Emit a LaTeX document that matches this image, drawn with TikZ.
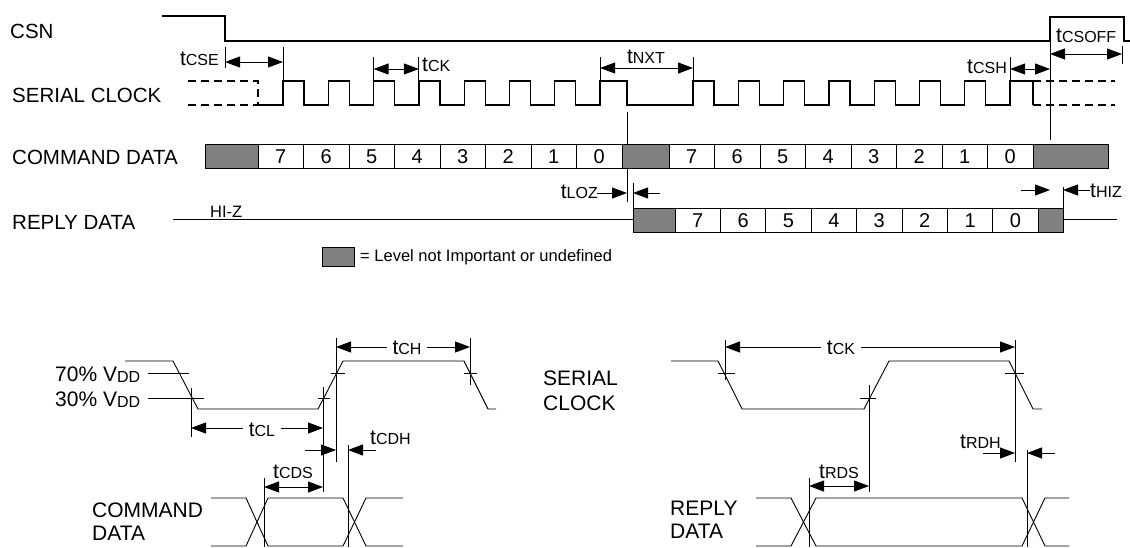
\documentclass[tikz,border=0pt]{standalone}
\usepackage{fontspec}
\setmainfont{Liberation Sans}
\usetikzlibrary{arrows.meta}
\definecolor{undefgray}{gray}{0.5}
\newcommand\tsub[1]{{\fontsize{21}{21}\selectfont t}{\fontsize{16}{16}\selectfont #1}}
\newcommand\vdd{V{\fontsize{16}{16}\selectfont\raisebox{-1.5pt}{DD}}}
\begin{document}
\begin{tikzpicture}[x=1pt,y=-1pt,
  wave/.style={line width=1.3pt},
  dashwave/.style={line width=1.3pt,dash pattern=on 8pt off 5pt},
  dimln/.style={line width=0.9pt},
  twoarr/.style={dimln,{Triangle[length=15pt,width=11pt]}-{Triangle[length=15pt,width=11pt]}},
  onearr/.style={dimln,-{Triangle[length=15pt,width=11pt]}},
  lbl/.style={font=\fontsize{20.5}{24}\selectfont,inner sep=0pt,anchor=base west},
  blbl/.style={font=\fontsize{21}{24}\selectfont,inner sep=0pt,anchor=base west},
  small/.style={font=\fontsize{16.5}{18}\selectfont,inner sep=0pt},
  tl/.style={inner sep=0pt},
  gap/.style={inner xsep=6pt,inner ysep=1pt,fill=white,anchor=base},
  cell/.style={draw,line width=1pt},
  undefbox/.style={draw,line width=1pt,fill=undefgray},
  digit/.style={font=\fontsize{20}{20}\selectfont,inner sep=0pt,anchor=base},
]
\useasboundingbox (0,0) rectangle (1130,547);

% ---------- row labels ----------
\node[lbl] (csn) at (10,38) {CSN};
\node[lbl] (sclk) at (12,102) {SERIAL CLOCK};
\node[lbl] (cmd) at (12,164) {COMMAND DATA};
\node[lbl] (rep) at (12,229) {REPLY DATA};

% ---------- CSN ----------
\draw[wave] (162,16) -- (225,16) -- (225,41) -- (1050,41) -- (1050,17) -- (1124,17) -- (1124,41) -- (1130,41);

% ---------- serial clock ----------
\draw[dashwave] (188,81) -- (258,81) -- (258,105) -- (188,105);
\draw[wave] (258,105)
  foreach \k in {0,...,6} { -- ({283+45.3*\k},105) -- ({283+45.3*\k},81) -- ({304+45.3*\k},81) -- ({304+45.3*\k},105) }
  -- (600.1,105) -- (600.1,81) -- (627,81) -- (627,105) -- (693,105)
  foreach \k in {0,...,6} { -- ({693+45.3*\k},105) -- ({693+45.3*\k},81) -- ({714+45.3*\k},81) -- ({714+45.3*\k},105) }
  -- (1010.1,105) -- (1010.1,81) -- (1033,81) -- (1033,105);
\draw[dashwave] (1033,81) -- (1115,81);
\draw[dashwave] (1033,105) -- (1115,105);

% tCSE
\node[tl,anchor=base east] (tcse) at (219,65) {\tsub{CSE}};
\draw[dimln] (225,47) -- (225,68);
\draw[dimln] (283,47) -- (283,81);
\draw[twoarr] (225,62) -- (283,62);
% tCK (top)
\draw[dimln] (373.6,57) -- (373.6,81);
\draw[dimln] (418.9,57) -- (418.9,81);
\draw[twoarr] (373.6,69) -- (418.9,69);
\node[tl,anchor=base west] (tck1) at (422,71) {\tsub{CK}};
% tNXT
\draw[dimln] (600.1,57) -- (600.1,81);
\draw[dimln] (693,57) -- (693,81);
\draw[twoarr] (600.1,68) -- (693,68);
\node[tl,anchor=base] (tnxt) at (646,63) {\tsub{NXT}};
% tCSH
\draw[dimln] (1010.1,57) -- (1010.1,81);
\draw[twoarr] (1010.1,69) -- (1050,69);
\node[tl,anchor=base east] (tcsh) at (1007,73) {\tsub{CSH}};
% tCSOFF
\draw[dimln] (1050,41) -- (1050,140);
\draw[dimln] (1122,46) -- (1122,64);
\draw[twoarr] (1050,54) -- (1122,54);
\node[tl,anchor=base west] (tcsoff) at (1056,42) {\tsub{CSOFF}};

% long marker at end of first byte
\draw[dimln] (627,112) -- (627,202);

% ---------- command data ----------
\draw[undefbox] (205,144) rectangle (258,168);
\foreach \d [count=\i from 0] in {7,6,5,4,3,2,1,0} {
  \draw[cell] ({258+45.5*\i},144) rectangle ++(45.5,24);
  \node[digit] at ({280.75+45.5*\i},163) {\d};
}
\draw[undefbox] (622,144) rectangle (669,168);
\foreach \d [count=\i from 0] in {7,6,5,4,3,2,1,0} {
  \draw[cell] ({669+45.5*\i},144) rectangle ++(45.5,24);
  \node[digit] at ({691.75+45.5*\i},163) {\d};
}
\draw[undefbox] (1033,144) rectangle (1108,168);

% ---------- reply data ----------
\draw[dimln] (173,219) -- (633,219);
\node[small,anchor=base west] (hiz) at (210,217) {HI-Z};
\draw[undefbox] (633,208) rectangle (675,232);
\foreach \d [count=\i from 0] in {7,6,5,4,3,2,1,0} {
  \draw[cell] ({675+45.4*\i},208) rectangle ++(45.4,24);
  \node[digit] at ({697.7+45.4*\i},227) {\d};
}
\draw[undefbox] (1038,208) rectangle (1063,232);
\draw[dimln] (1063,219) -- (1117,219);

% tLOZ
\node[tl,anchor=base east] (tloz) at (598,198) {\tsub{LOZ}};
\draw[onearr] (597,193) -- (627,193);
\draw[dimln] (633,183) -- (633,208);
\draw[onearr] (660,193) -- (633,193);
% tHIZ
\draw[onearr] (1021,190) -- (1050,190);
\draw[dimln] (1063,187) -- (1063,208);
\draw[onearr] (1090,190) -- (1063,190);
\node[tl,anchor=base west] (thiz) at (1090,197) {\tsub{HIZ}};

% legend
\draw[undefbox] (322,247) rectangle (354,266);
\node[small,anchor=base west] (legend) at (360,261) {= Level not Important or undefined};

% ---------- bottom left: command data timing ----------
\node[blbl] (p70) at (55,381) {70\% \vdd};
\node[blbl] (p30) at (55,406) {30\% \vdd};
\draw[dimln] (148,373) -- (189,373);
\draw[dimln] (148,398) -- (204,398);
\draw[dimln] (125,361) -- (173,361) -- (198,409) -- (318,409) -- (343,361) -- (464,361) -- (488,409) -- (496,409);
\draw[dimln] (318,398) -- (330,398);
\draw[dimln] (331,373) -- (345,373);
\draw[dimln] (464,373) -- (477,373);
\draw[dimln] (191,388) -- (191,437);
\draw[dimln] (323,387) -- (323,492);
\draw[dimln] (336,338) -- (336,462);
\draw[dimln] (470,338) -- (470,385);
\draw[twoarr] (336,347) -- (470,347);
\node[tl,gap] (tch) at (407,354) {\tsub{CH}};
\draw[twoarr] (191,428) -- (323,428);
\node[tl,gap] (tcl) at (262,436) {\tsub{CL}};
\draw[onearr] (305,450) -- (336,450);
\draw[dimln] (348,445) -- (348,547);
\draw[onearr] (376,450) -- (348,450);
\node[tl,anchor=base west] (tcdh) at (370,444) {\tsub{CDH}};
\draw[dimln] (264,478) -- (264,547);
\draw[twoarr] (264,487) -- (323,487);
\node[tl,anchor=base] (tcds) at (293,478) {\tsub{CDS}};
\draw[dimln] (211,498) -- (246,498) -- (268,546) -- (343,546) -- (366,498) -- (403,498);
\draw[dimln] (211,546) -- (246,546) -- (268,498) -- (343,498) -- (366,546) -- (403,546);
\node[blbl] (cmd2a) at (92,517) {COMMAND};
\node[blbl] (cmd2b) at (92,540) {DATA};

% ---------- bottom right: reply data timing ----------
\node[blbl] (sc2a) at (543,385) {SERIAL};
\node[blbl] (sc2b) at (543,410) {CLOCK};
\draw[dimln] (671,361) -- (718,361) -- (742,409) -- (864,409) -- (889,361) -- (1009,361) -- (1033,409) -- (1042,409);
\draw[dimln] (718,373) -- (735,373);
\draw[dimln] (860,398) -- (876,398);
\draw[dimln] (1005,373) -- (1024,373);
\draw[dimln] (725,340) -- (725,380);
\draw[dimln] (869,385) -- (869,492);
\draw[dimln] (1015,340) -- (1015,462);
\draw[twoarr] (725,347) -- (1015,347);
\node[tl,gap] (tck2) at (841,354) {\tsub{CK}};
\draw[onearr] (983,453) -- (1015,453);
\draw[dimln] (1027,450) -- (1027,547);
\draw[onearr] (1055,453) -- (1027,453);
\node[tl,anchor=base west] (trdh) at (960,448) {\tsub{RDH}};
\draw[dimln] (809,478) -- (809,547);
\draw[twoarr] (809,486) -- (869,486);
\node[tl,anchor=base] (trds) at (839,478) {\tsub{RDS}};
\draw[dimln] (756,498) -- (791,498) -- (816,546) -- (1022,546) -- (1045,498) -- (1069,498);
\draw[dimln] (756,546) -- (791,546) -- (816,498) -- (1022,498) -- (1045,546) -- (1069,546);
\node[blbl] (rp2a) at (670,515) {REPLY};
\node[blbl] (rp2b) at (670,538) {DATA};
\end{tikzpicture}
\end{document}
